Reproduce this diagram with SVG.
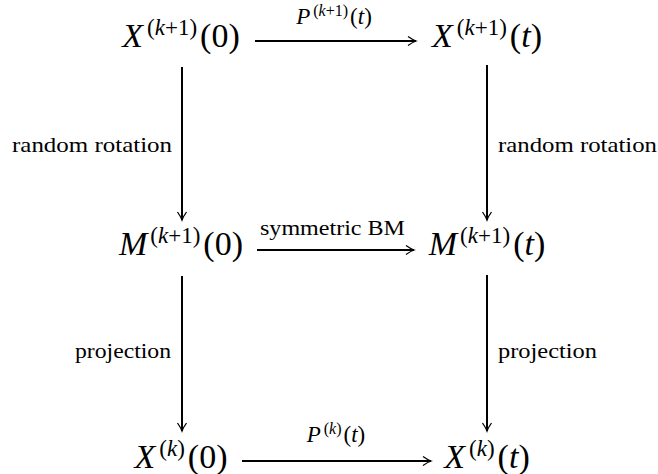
<svg xmlns="http://www.w3.org/2000/svg" width="658" height="474" viewBox="0 0 658 474" font-family="'Liberation Serif', 'Times New Roman', serif">
<defs>
<style>
text{font-family:'Liberation Serif','Times New Roman',serif;fill:#000}
.m{font-size:34px;text-anchor:middle}
.s{font-size:23px}
.lm{font-size:23px;text-anchor:middle}
.ls{font-size:16px}
.i{font-style:italic}
.lab{font-size:21px}
.c{stroke:#000;stroke-width:2;fill:none}
</style>
<marker id="ah" markerUnits="userSpaceOnUse" markerWidth="12" markerHeight="12" viewBox="-10 -6 12 12" refX="0" refY="0" orient="auto">
<path d="M-8,-4.5 Q-3,-1 0,0 Q-3,1 -8,4.5" fill="none" stroke="#000" stroke-width="1.3"/>
</marker>
</defs>
<rect width="658" height="474" fill="#fff"/>
<g id="connectors">
<line class="c" x1="255" y1="41" x2="416" y2="41" marker-end="url(#ah)"/>
<line class="c" x1="257" y1="250" x2="414" y2="250" marker-end="url(#ah)"/>
<line class="c" x1="242" y1="461" x2="431" y2="461" marker-end="url(#ah)"/>
<line class="c" x1="182" y1="67" x2="182" y2="220" marker-end="url(#ah)"/>
<line class="c" x1="487" y1="65" x2="487" y2="220" marker-end="url(#ah)"/>
<line class="c" x1="182" y1="276" x2="182" y2="431" marker-end="url(#ah)"/>
<line class="c" x1="487" y1="275" x2="487" y2="431" marker-end="url(#ah)"/>
<text class="lm" x="334" y="24"><tspan class="i">P</tspan><tspan class="ls" dx="3" dy="-8">(<tspan class="i">k</tspan>+1)</tspan><tspan dx="2" dy="8">(<tspan class="i">t</tspan>)</tspan></text>
<text class="lab" x="260" y="235" textLength="145" lengthAdjust="spacingAndGlyphs">symmetric BM</text>
<text class="lm" x="336" y="442"><tspan class="i">P</tspan><tspan class="ls" dx="3" dy="-8">(<tspan class="i">k</tspan>)</tspan><tspan dx="2" dy="8">(<tspan class="i">t</tspan>)</tspan></text>
<text class="lab" x="12" y="152" textLength="160" lengthAdjust="spacingAndGlyphs">random rotation</text>
<text class="lab" x="498" y="152" textLength="159" lengthAdjust="spacingAndGlyphs">random rotation</text>
<text class="lab" x="75" y="358" textLength="96" lengthAdjust="spacingAndGlyphs">projection</text>
<text class="lab" x="498" y="358" textLength="99" lengthAdjust="spacingAndGlyphs">projection</text>
</g>
<g id="X_k1_0">
<text class="m" x="181" y="47"><tspan class="i">X</tspan><tspan class="s" dx="4" dy="-12">(<tspan class="i">k</tspan>+1)</tspan><tspan dx="3" dy="12">(0)</tspan></text>
</g>
<g id="X_k1_t">
<text class="m" x="487" y="47"><tspan class="i">X</tspan><tspan class="s" dx="4" dy="-12">(<tspan class="i">k</tspan>+1)</tspan><tspan dx="3" dy="12">(<tspan class="i">t</tspan>)</tspan></text>
</g>
<g id="M_k1_0">
<text class="m" x="181" y="255"><tspan class="i">M</tspan><tspan class="s" dx="3" dy="-12">(<tspan class="i">k</tspan>+1)</tspan><tspan dx="3" dy="12">(0)</tspan></text>
</g>
<g id="M_k1_t">
<text class="m" x="487" y="255"><tspan class="i">M</tspan><tspan class="s" dx="3" dy="-12">(<tspan class="i">k</tspan>+1)</tspan><tspan dx="3" dy="12">(<tspan class="i">t</tspan>)</tspan></text>
</g>
<g id="X_k_0">
<text class="m" x="181" y="468"><tspan class="i">X</tspan><tspan class="s" dx="4" dy="-12">(<tspan class="i">k</tspan>)</tspan><tspan dx="3" dy="12">(0)</tspan></text>
</g>
<g id="X_k_t">
<text class="m" x="487" y="468"><tspan class="i">X</tspan><tspan class="s" dx="4" dy="-12">(<tspan class="i">k</tspan>)</tspan><tspan dx="3" dy="12">(<tspan class="i">t</tspan>)</tspan></text>
</g>
</svg>
